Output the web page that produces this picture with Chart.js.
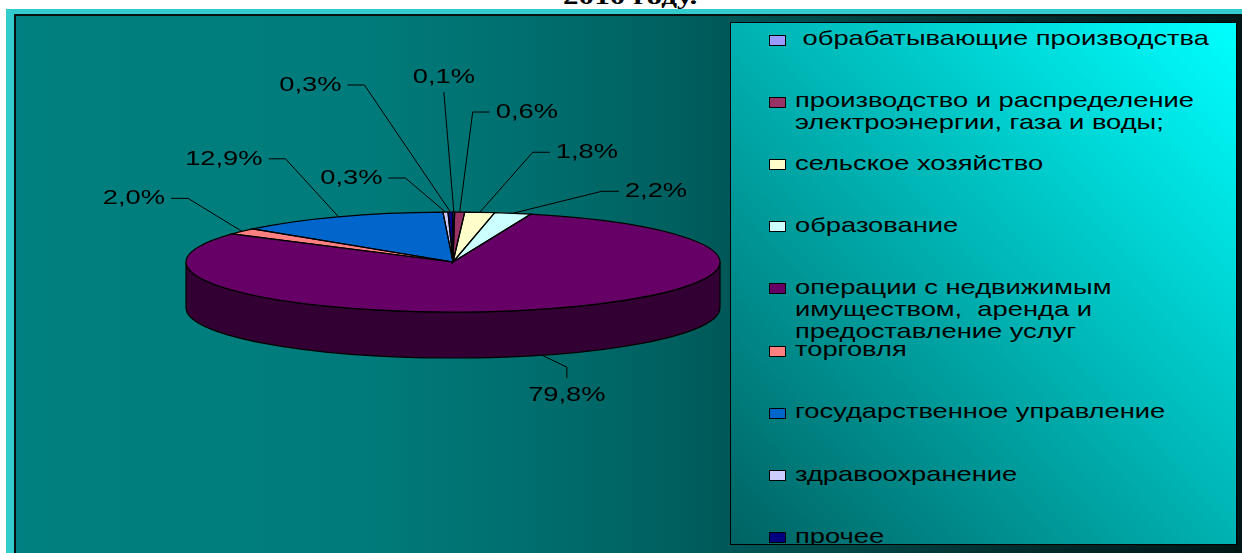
<!DOCTYPE html>
<html lang="ru">
<head>
<meta charset="utf-8">
<title>Структура по видам деятельности</title>
<script src="https://cdn.jsdelivr.net/npm/chart.js@4.4.1/dist/chart.umd.min.js"></script>
<style>
  html, body { margin: 0; padding: 0; background: #fff; width: 1242px; height: 553px; overflow: hidden; }
  #frame { position: absolute; left: 6px; top: 9px; right: 0; bottom: 0; background: #33cccc; }
  #plot {
    position: absolute; left: 14px; top: 14px; right: 0; bottom: 0;
    border-left: 2px solid #061010; border-top: 2px solid #061010;
    background: linear-gradient(to right, #008080 0%, #007b7b 28%, #006e6e 42%, #005f5f 54%, #004646 68%, #002a2a 84%, #001616 100%);
  }
  #title {
    position: absolute; left: 563px; top: -16px; white-space: nowrap;
    font: bold 24px/25px "Liberation Serif", "Times New Roman", serif; color: #000;
    transform: scaleX(1.3); transform-origin: 0 0;
  }
  #chart { position: absolute; left: 0; top: 0; }
  #legend {
    position: absolute; left: 730px; top: 22px; width: 505px; height: 521px;
    border: 1px solid #000; overflow: hidden;
    background: linear-gradient(to top right, #006262 0%, #00b2b2 50%, #00ffff 100%);
  }
  .sw { position: absolute; left: 38px; width: 15px; height: 9px; border: 1px solid #000; }
  .tx {
    position: absolute; left: 64px; width: 335px; color: #000;
    font: 21px/22px "Liberation Sans", Arial, sans-serif; white-space: pre-wrap;
    transform: scaleX(1.3); transform-origin: 0 0;
  }
</style>
</head>
<body>
<div id="frame"></div>
<div id="plot"></div>
<div id="title">2010 году.</div>
<canvas id="chart" width="1242" height="553"></canvas>
<div id="legend"></div>
<script>
// --- data ---
const categories = [
  " обрабатывающие производства",
  "производство и распределение электроэнергии, газа и воды;",
  "сельское хозяйство",
  "образование",
  "операции с недвижимым имуществом,  аренда и предоставление услуг",
  "торговля",
  "государственное управление",
  "здравоохранение",
  "прочее"
];
const shares = [0.1, 0.6, 1.8, 2.2, 79.8, 2.0, 12.9, 0.3, 0.3];
const colors = ["#9999ff", "#993366", "#ffffcc", "#ccffff", "#660066", "#ff8080", "#0066cc", "#ccccff", "#000080"];

// --- layout (screen) ---
const PIE = { cx: 453, cy: 262, rx: 267, ry: 50, depth: 46 };
// leader elbow offsets from the slice anchor + where the text sits
const labelSpots = [
  [-10, -120, "up"], [13, -100, "right"], [53, -60, "right"], [89, -22, "right"],
  [25, 12, "down"], [-54, -33, "left"], [-53, -58, "left"], [-40, -34, "left"], [-86, -127, "left"]
];
const TEXT_STRETCH = 1.3;

const fmt = (v) => v.toFixed(1).replace(".", ",") + "%";
const shade = (hex, f) => {
  const n = parseInt(hex.slice(1), 16);
  const c = [(n >> 16) & 255, (n >> 8) & 255, n & 255].map((x) => Math.round(x * f));
  return `rgb(${c[0]},${c[1]},${c[2]})`;
};

// squash the library's pie into a tilted disc with a side wall
const tiltPlugin = {
  id: "tilt",
  beforeDatasetsDraw(chart) {
    const ctx = chart.ctx;
    const meta = chart.getDatasetMeta(0);
    ctx.save();
    ctx.lineWidth = 1.2;
    ctx.strokeStyle = "#000";
    meta.data.forEach((arc) => {
      const p = arc.getProps(["startAngle", "endAngle"], true);
      const s = Math.max(p.startAngle, 0);
      const e = Math.min(p.endAngle, Math.PI);
      if (e <= s) return;
      ctx.beginPath();
      ctx.ellipse(PIE.cx, PIE.cy, PIE.rx, PIE.ry, 0, s, e);
      ctx.ellipse(PIE.cx, PIE.cy + PIE.depth, PIE.rx, PIE.ry, 0, e, s, true);
      ctx.closePath();
      ctx.fillStyle = shade(arc.options.backgroundColor, 0.5);
      ctx.fill();
      ctx.stroke();
    });
    ctx.restore();

    const { x, y, outerRadius } = meta.data[0].getProps(["x", "y", "outerRadius"], true);
    ctx.save();
    ctx.translate(PIE.cx, PIE.cy);
    ctx.scale(PIE.rx / outerRadius, PIE.ry / outerRadius);
    ctx.translate(-x, -y);
  },
  afterDatasetsDraw(chart) {
    const ctx = chart.ctx;
    ctx.restore();
    const meta = chart.getDatasetMeta(0);
    ctx.save();
    ctx.lineWidth = 1.2;
    ctx.strokeStyle = "#000";
    meta.data.forEach((arc) => {
      const p = arc.getProps(["startAngle", "endAngle"], true);
      ctx.beginPath();
      ctx.moveTo(PIE.cx, PIE.cy);
      ctx.ellipse(PIE.cx, PIE.cy, PIE.rx, PIE.ry, 0, p.startAngle, p.endAngle);
      ctx.closePath();
      ctx.stroke();
    });

    // data labels with leader lines
    ctx.lineWidth = 1;
    ctx.fillStyle = "#000";
    ctx.font = '21px "Liberation Sans", Arial, sans-serif';
    ctx.textBaseline = "middle";
    meta.data.forEach((arc, i) => {
      const p = arc.getProps(["startAngle", "endAngle"], true);
      const mid = (p.startAngle + p.endAngle) / 2;
      const ax = PIE.cx + PIE.rx * Math.cos(mid);
      let ay = PIE.cy + PIE.ry * Math.sin(mid);
      if (Math.sin(mid) > 0) ay += PIE.depth;
      const [dx, dy, side] = labelSpots[i];
      const ex = ax + dx, ey = ay + dy;
      let tx = ex, ty = ey, align = "center";
      ctx.beginPath();
      ctx.moveTo(ax, ay);
      ctx.lineTo(ex, ey);
      if (side === "right") { ctx.lineTo(ex + 17, ey); tx = ex + 23; align = "left"; }
      else if (side === "left") { ctx.lineTo(ex - 17, ey); tx = ex - 23; align = "right"; }
      else if (side === "up") { ty = ey - 15; }
      else { ctx.lineTo(ex, ey + 11); ty = ey + 28; }
      ctx.stroke();
      ctx.save();
      ctx.translate(tx, ty);
      ctx.scale(TEXT_STRETCH, 1);
      ctx.textAlign = align;
      ctx.fillText(fmt(chart.data.datasets[0].data[i]), 0, 0);
      ctx.restore();
    });
    ctx.restore();
  }
};

const chart = new Chart(document.getElementById("chart"), {
  type: "pie",
  data: {
    labels: categories,
    datasets: [{
      data: shares,
      backgroundColor: colors,
      borderWidth: 0,
      hoverOffset: 0,
      clip: false
    }]
  },
  options: {
    responsive: false,
    animation: false,
    events: [],
    plugins: { legend: { display: false }, tooltip: { enabled: false } }
  },
  plugins: [tiltPlugin]
});

// legend box, one row every ~62px
const legend = document.getElementById("legend");
chart.data.labels.forEach((name, i) => {
  const rowY = 40 + 62.2 * i - 23;
  const sw = document.createElement("div");
  sw.className = "sw";
  sw.style.top = (rowY - 5.5) + "px";
  sw.style.background = chart.data.datasets[0].backgroundColor[i];
  const tx = document.createElement("div");
  tx.className = "tx";
  tx.style.top = (rowY - 12.8) + "px";
  tx.textContent = name;
  legend.appendChild(sw);
  legend.appendChild(tx);
});
</script>
</body>
</html>
